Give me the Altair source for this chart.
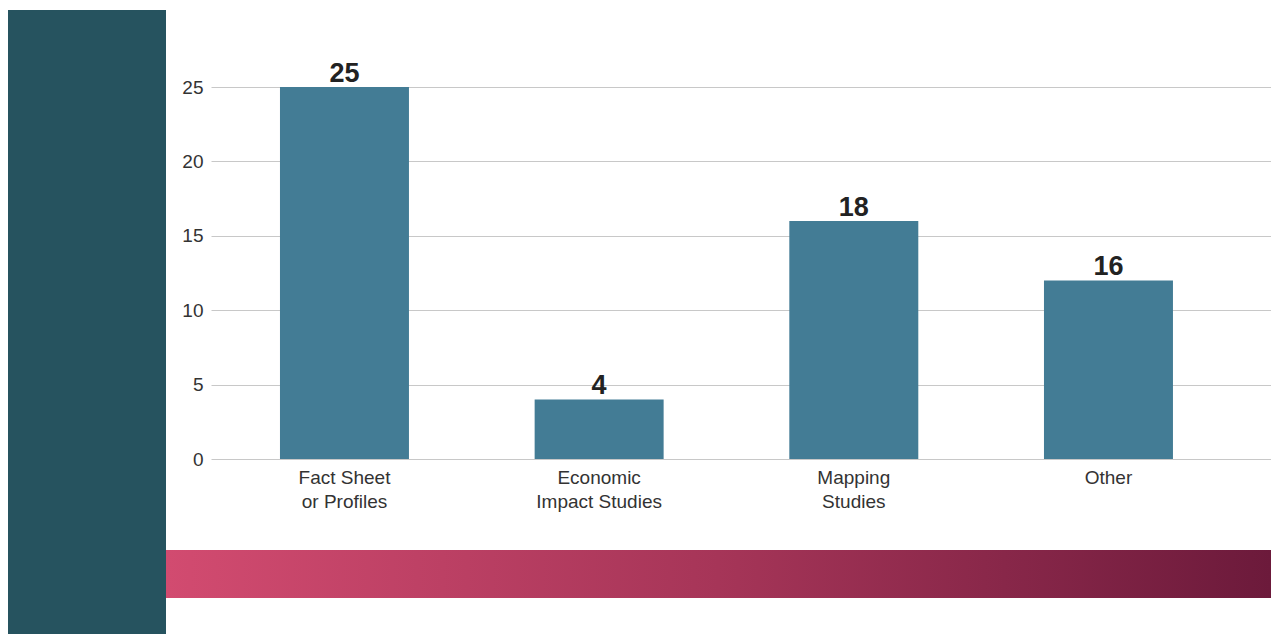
import altair as alt
import pandas as pd

categories = ["Fact Sheet|or Profiles", "Economic|Impact Studies", "Mapping|Studies", "Other"]
bar_values = [25, 4, 16, 12]
label_values = ["25", "4", "18", "16"]
y_ticks = [0, 5, 10, 15, 20, 25]

df = pd.DataFrame({"cat": categories, "value": bar_values, "label": label_values})
one = pd.DataFrame({"k": [0]})

W, H = 1060, 372
PAD_L, PAD_T = 203, 79
TOTAL_H = 626

x_enc = alt.X(
    "cat:N",
    sort=categories,
    scale=alt.Scale(paddingInner=0.4935, paddingOuter=0.3279, align=0.413),
    axis=alt.Axis(
        title=None,
        labelAngle=0,
        labelExpr="split(datum.value, '|')",
        labelFont="Liberation Sans",
        labelFontSize=19,
        labelColor="#333333",
        labelLineHeight=24,
        labelPadding=9,
        ticks=False,
        domain=False,
        grid=False,
    ),
)
y_enc = alt.Y(
    "value:Q",
    scale=alt.Scale(domain=[0, 25], nice=False),
    axis=alt.Axis(
        title=None,
        values=y_ticks,
        labelFont="Liberation Sans",
        labelFontSize=19,
        labelColor="#333333",
        labelPadding=8,
        ticks=False,
        domain=False,
        grid=True,
        gridColor="#c8c8c8",
        gridWidth=1,
    ),
)

bars = alt.Chart(df).mark_bar(color="#437c95").encode(x=x_enc, y=y_enc)
texts = alt.Chart(df).mark_text(
    font="Liberation Sans", fontWeight="bold", fontSize=27, color="#222222",
    baseline="bottom", dy=1,
).encode(x=alt.X("cat:N", sort=categories), y="value:Q", text="label:N")

panel = alt.Chart(one).mark_rect(color="#26535f").encode(
    x=alt.value(8 - 211), x2=alt.value(166 - 211),
    y=alt.value(10 - 87), y2=alt.value(TOTAL_H - PAD_T),
)
band = alt.Chart(one).mark_rect(
    color=alt.LinearGradient(
        gradient="linear", x1=0, x2=1, y1=0, y2=0,
        stops=[
            alt.GradientStop(color="#d24b70", offset=0),
            alt.GradientStop(color="#a63558", offset=0.5),
            alt.GradientStop(color="#6c1a3b", offset=1),
        ],
    )
).encode(
    x=alt.value(166 - 211), x2=alt.value(W),
    y=alt.value(550 - 87), y2=alt.value(598 - 87),
)

chart = alt.layer(panel, band, bars, texts).properties(
    width=W, height=H,
    autosize=alt.AutoSizeParams(type="none"),
    padding={"left": PAD_L, "top": PAD_T, "right": 0, "bottom": TOTAL_H - PAD_T - H},
).configure_view(stroke=None)

chart.save("out.html", embed_options={"renderer": "svg", "actions": False})
